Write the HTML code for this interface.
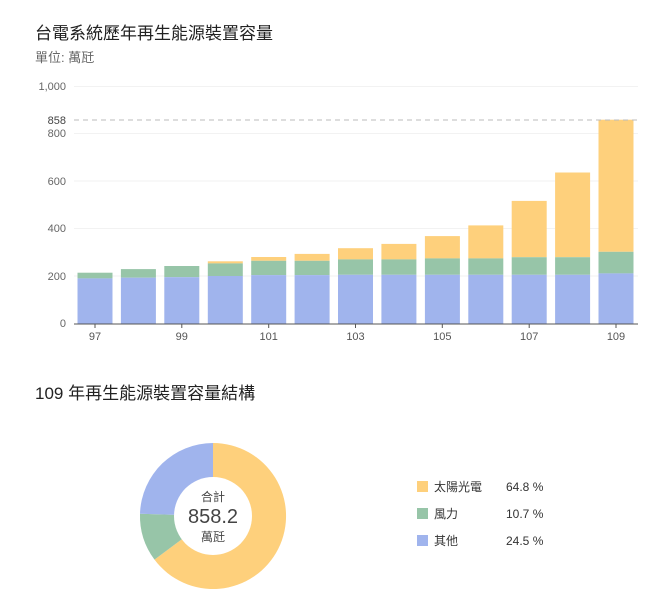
<!DOCTYPE html>
<html><head><meta charset="utf-8"><style>
body{margin:0;background:#fff;}
svg text{font-family:"Liberation Sans","Noto Sans CJK TC",sans-serif;}
</style></head><body>
<svg width="654" height="593" viewBox="0 0 654 593" xmlns="http://www.w3.org/2000/svg">
<text x="35" y="39" font-size="17" fill="#222">台電系統歷年再生能源裝置容量</text>
<text x="35" y="62" font-size="13" fill="#666">單位: 萬瓩</text>
<g stroke="#f2f2f2" stroke-width="1">
<line x1="74" x2="638" y1="86.5" y2="86.5"/><line x1="74" x2="638" y1="133.5" y2="133.5"/><line x1="74" x2="638" y1="181" y2="181"/><line x1="74" x2="638" y1="228.5" y2="228.5"/><line x1="74" x2="638" y1="276" y2="276"/>
</g>
<g font-size="11" fill="#666" text-anchor="end">
<text x="66" y="90">1,000</text><text x="66" y="124" fill="#444">858</text><text x="66" y="137">800</text><text x="66" y="185">600</text><text x="66" y="232">400</text><text x="66" y="280">200</text><text x="66" y="327">0</text>
</g>
<g fill="#fed07c">
<rect x="207.8" y="261.3" width="35" height="2.1"/>
<rect x="251.2" y="257" width="35" height="3.8"/>
<rect x="294.6" y="253.9" width="35" height="6.9"/>
<rect x="338" y="248.2" width="35" height="11.2"/>
<rect x="381.4" y="243.9" width="35" height="15.5"/>
<rect x="424.9" y="236.1" width="35" height="22.3"/>
<rect x="468.3" y="225.4" width="35" height="33"/>
<rect x="511.7" y="200.9" width="35" height="56.3"/>
<rect x="555.1" y="172.5" width="35" height="84.7"/>
<rect x="598.5" y="119.7" width="35" height="132.1"/>
</g>
<g fill="#97c5a8">
<rect x="77.5" y="272.7" width="35" height="5.7"/>
<rect x="120.9" y="269.1" width="35" height="8.6"/>
<rect x="164.3" y="266" width="35" height="11.2"/>
<rect x="207.8" y="263.4" width="35" height="12.6"/>
<rect x="251.2" y="260.8" width="35" height="14.3"/>
<rect x="294.6" y="260.8" width="35" height="14.3"/>
<rect x="338" y="259.4" width="35" height="15.4"/>
<rect x="381.4" y="259.4" width="35" height="15.4"/>
<rect x="424.9" y="258.4" width="35" height="16.4"/>
<rect x="468.3" y="258.4" width="35" height="16.4"/>
<rect x="511.7" y="257.2" width="35" height="17.6"/>
<rect x="555.1" y="257.2" width="35" height="17.6"/>
<rect x="598.5" y="251.8" width="35" height="21.6"/>
</g>
<g fill="#a0b4ed">
<rect x="77.5" y="278.4" width="35" height="45.1"/>
<rect x="120.9" y="277.7" width="35" height="45.8"/>
<rect x="164.3" y="277.2" width="35" height="46.3"/>
<rect x="207.8" y="276" width="35" height="47.5"/>
<rect x="251.2" y="275.1" width="35" height="48.4"/>
<rect x="294.6" y="275.1" width="35" height="48.4"/>
<rect x="338" y="274.8" width="35" height="48.7"/>
<rect x="381.4" y="274.8" width="35" height="48.7"/>
<rect x="424.9" y="274.8" width="35" height="48.7"/>
<rect x="468.3" y="274.8" width="35" height="48.7"/>
<rect x="511.7" y="274.8" width="35" height="48.7"/>
<rect x="555.1" y="274.8" width="35" height="48.7"/>
<rect x="598.5" y="273.4" width="35" height="50.1"/>
</g>
<line x1="74" x2="638" y1="120" y2="120" stroke="#bbb" stroke-dasharray="5,4"/>
<line x1="74" x2="638" y1="324" y2="324" stroke="#555"/>
<g stroke="#555">
<line x1="95" x2="95" y1="324" y2="328"/><line x1="181.8" x2="181.8" y1="324" y2="328"/><line x1="268.7" x2="268.7" y1="324" y2="328"/><line x1="355.5" x2="355.5" y1="324" y2="328"/><line x1="442.3" x2="442.3" y1="324" y2="328"/><line x1="529.2" x2="529.2" y1="324" y2="328"/><line x1="616" x2="616" y1="324" y2="328"/>
</g>
<g font-size="11" fill="#555" text-anchor="middle">
<text x="95" y="340">97</text><text x="181.8" y="340">99</text><text x="268.7" y="340">101</text><text x="355.5" y="340">103</text><text x="442.3" y="340">105</text><text x="529.2" y="340">107</text><text x="616" y="340">109</text>
</g>
<text x="35" y="399" font-size="17" fill="#222">109 年再生能源裝置容量結構</text>
<path d="M213,516 L213,443 A73,73 0 1 1 154.5,559.6 Z" fill="#fed07c"/>
<path d="M213,516 L154.5,559.6 A73,73 0 0 1 140,513.7 Z" fill="#97c5a8"/>
<path d="M213,516 L140,513.7 A73,73 0 0 1 213,443 Z" fill="#a0b4ed"/>
<circle cx="213" cy="516" r="39" fill="#fff"/>
<text x="213" y="501" font-size="12" fill="#444" text-anchor="middle">合計</text>
<text x="213" y="523" font-size="20" fill="#444" text-anchor="middle">858.2</text>
<text x="213" y="541" font-size="12" fill="#444" text-anchor="middle">萬瓩</text>
<rect x="417" y="481" width="11" height="11" fill="#fed07c"/>
<rect x="417" y="508" width="11" height="11" fill="#97c5a8"/>
<rect x="417" y="535" width="11" height="11" fill="#a0b4ed"/>
<g font-size="12" fill="#333">
<text x="434" y="491">太陽光電</text><text x="506" y="491">64.8 %</text>
<text x="434" y="518">風力</text><text x="506" y="518">10.7 %</text>
<text x="434" y="545">其他</text><text x="506" y="545">24.5 %</text>
</g>
</svg>
</body></html>
